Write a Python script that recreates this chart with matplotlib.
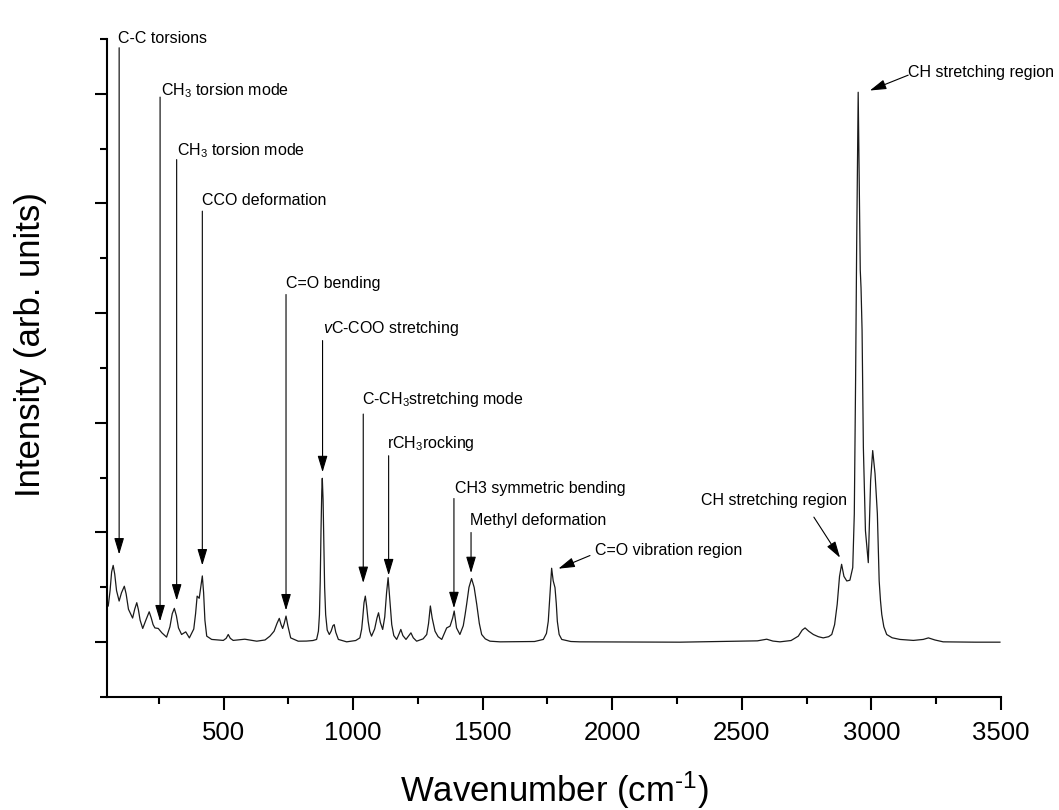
import matplotlib
matplotlib.use("Agg")
import matplotlib.pyplot as plt
from matplotlib.ticker import MultipleLocator, NullFormatter

plt.rcParams["font.family"] = ["Liberation Sans", "DejaVu Sans"]
plt.rcParams["mathtext.fontset"] = "custom"
plt.rcParams["mathtext.rm"] = "Liberation Sans"
plt.rcParams["mathtext.it"] = "Liberation Sans:italic"
plt.rcParams["mathtext.bf"] = "Liberation Sans:bold"

# Raman spectrum (wavenumber in cm^-1, intensity in arbitrary units)
wavenumber = [
    55, 62, 68, 74, 80, 87, 97, 106, 117, 124, 133, 149, 157, 165, 171, 178,
    188, 200, 213, 221, 228, 235, 248, 262, 280, 293, 302, 310, 318, 326, 338,
    354, 368, 385, 392, 398, 406, 413, 418, 423, 428, 435, 454, 499, 510, 518,
    526, 537, 582, 628, 660, 679, 695, 706, 715, 722, 728, 734, 741, 748, 759,
    788, 820, 845, 859, 866, 870, 873, 876, 879, 881, 884, 887, 890, 894, 900,
    908, 915, 922, 927, 933, 943, 975, 1010, 1026, 1033, 1037, 1042, 1047,
    1052, 1058, 1064, 1071, 1083, 1092, 1098, 1105, 1114, 1122, 1129, 1135,
    1141, 1149, 1157, 1168, 1178, 1184, 1192, 1204, 1215, 1223, 1232, 1245,
    1270, 1284, 1291, 1298, 1305, 1316, 1328, 1342, 1352, 1361, 1374, 1384,
    1390, 1395, 1399, 1412, 1425, 1432, 1438, 1447, 1457, 1467, 1477, 1487,
    1496, 1510, 1528, 1567, 1700, 1734, 1746, 1753, 1760, 1766, 1772, 1779,
    1784, 1788, 1795, 1805, 1840, 1875, 2261, 2560, 2596, 2620, 2647, 2690,
    2718, 2733, 2744, 2758, 2776, 2795, 2814, 2835, 2847, 2858, 2868, 2877,
    2885, 2894, 2905, 2917, 2928, 2934, 2939, 2943, 2947, 2949, 2953, 2957,
    2960, 2964, 2969, 2977, 2988, 2997, 3005, 3014, 3023, 3030, 3035, 3040,
    3048, 3059, 3080, 3110, 3162, 3200, 3220, 3245, 3277, 3400, 3496,
]
intensity = [
    0.33, 0.47, 0.64, 0.70, 0.62, 0.47, 0.375, 0.45, 0.51, 0.44, 0.30, 0.22,
    0.30, 0.36, 0.30, 0.20, 0.125, 0.20, 0.277, 0.22, 0.16, 0.13, 0.125,
    0.085, 0.046, 0.14, 0.26, 0.308, 0.24, 0.13, 0.07, 0.094, 0.039, 0.12,
    0.26, 0.42, 0.40, 0.52, 0.604, 0.45, 0.20, 0.055, 0.025, 0.016, 0.035,
    0.07, 0.035, 0.016, 0.027, 0.009, 0.02, 0.055, 0.10, 0.17, 0.217, 0.16,
    0.125, 0.17, 0.238, 0.15, 0.039, 0.009, 0.01, 0.015, 0.025, 0.10, 0.25,
    0.55, 1.016, 1.38, 1.494, 1.30, 0.92, 0.50, 0.25, 0.11, 0.07, 0.10, 0.15,
    0.16, 0.09, 0.025, 0.003, 0.015, 0.039, 0.12, 0.22, 0.36, 0.42, 0.33,
    0.19, 0.10, 0.055, 0.12, 0.22, 0.268, 0.18, 0.116, 0.23, 0.45, 0.588,
    0.40, 0.16, 0.06, 0.025, 0.08, 0.116, 0.06, 0.025, 0.06, 0.085, 0.04,
    0.009, 0.03, 0.07, 0.17, 0.33, 0.22, 0.10, 0.05, 0.025, 0.08, 0.13,
    0.146, 0.22, 0.284, 0.20, 0.13, 0.07, 0.15, 0.25, 0.345, 0.50, 0.58,
    0.50, 0.345, 0.17, 0.07, 0.03, 0.009, 0.003, 0.006, 0.025, 0.08, 0.19,
    0.45, 0.674, 0.56, 0.497, 0.35, 0.19, 0.07, 0.025, 0.006, 0.003, 0.0,
    0.012, 0.027, 0.01, 0.003, 0.015, 0.055, 0.11, 0.13, 0.10, 0.07, 0.05,
    0.039, 0.05, 0.07, 0.16, 0.345, 0.60, 0.71, 0.60, 0.558, 0.565, 0.68,
    1.168, 2.388, 3.577, 4.584, 5.014, 4.218, 3.394, 3.23, 2.845, 1.775,
    1.016, 0.725, 1.473, 1.747, 1.537, 1.171, 0.558, 0.38, 0.253, 0.14, 0.07,
    0.04, 0.025, 0.016, 0.025, 0.039, 0.02, 0.003, 0.0, 0.0,
]

x_ticks = [500, 1000, 1500, 2000, 2500, 3000, 3500]

# Band assignments: label, text anchor (left/right edge, centre), arrow start, arrow tip
band_labels = [
    "C-C torsions",
    "CH$_3$ torsion mode",
    "CH$_3$ torsion mode",
    "CCO deformation",
    "C=O bending",
    "$\\mathit{v}$C-COO stretching",
    "C-CH$_3$stretching mode",
    "rCH$_3$rocking",
    "CH3 symmetric bending",
    "Methyl deformation",
    "C=O vibration region",
    "CH stretching region",
    "CH stretching region",
]
label_xy = [
    (91, 5.50), (258, 5.03), (322, 4.48), (418, 4.03), (741, 3.27),
    (882, 2.86), (1035, 2.21), (1129, 1.81), (1393, 1.40), (1451, 1.11),
    (1933, 0.84), (2905, 1.29), (3142, 5.19),
]
label_ha = ["left"] * 11 + ["right", "left"]
arrow_start = [
    (97, 5.42), (255, 4.97), (319, 4.40), (418, 3.93), (741, 3.17),
    (882, 2.75), (1039, 2.08), (1137, 1.70), (1389, 1.31), (1455, 1.00),
    (1914, 0.79), (2778, 1.14), (3142, 5.17),
]
arrow_tip = [
    (97, 0.80), (255, 0.19), (319, 0.38), (418, 0.70), (741, 0.29),
    (882, 1.55), (1039, 0.54), (1137, 0.61), (1389, 0.31), (1455, 0.63),
    (1792, 0.67), (2879, 0.77), (2994, 5.03),
]

fig = plt.figure(figsize=(10.59, 8.10), dpi=100)
ax = fig.add_axes([0.1010, 0.1395, 0.8442, 0.8124])

ax.plot(wavenumber, intensity, color="#1a1a1a", lw=0.9,
        solid_joinstyle="round")

for text, (tx, ty), ha, start, tip in zip(band_labels, label_xy, label_ha,
                                          arrow_start, arrow_tip):
    ax.annotate("", xy=tip, xytext=start, annotation_clip=False,
                arrowprops=dict(arrowstyle="-|>,head_length=1.0,head_width=0.3",
                                mutation_scale=10, color="black", lw=0.8,
                                shrinkA=0, shrinkB=0))
    ax.text(tx, ty, text, ha=ha, va="center", fontsize=11.5, color="black",
            clip_on=False)

ax.set_xlim(50, 3500)
ax.set_ylim(-0.5, 5.5)
ax.set_xticks(x_ticks)
ax.xaxis.set_minor_locator(MultipleLocator(250))
ax.yaxis.set_major_locator(MultipleLocator(1))
ax.yaxis.set_minor_locator(MultipleLocator(0.5))
ax.yaxis.set_major_formatter(NullFormatter())

for side in ("top", "right"):
    ax.spines[side].set_visible(False)
for side in ("left", "bottom"):
    ax.spines[side].set_linewidth(1.5)

ax.tick_params(which="major", direction="out", length=9, width=1.5,
               labelsize=18.5, pad=8)
ax.tick_params(which="minor", direction="out", length=5, width=1.5)

ax.set_xlabel("Wavenumber (cm$^{\\text{-}1}$)", fontsize=25, va="baseline")
ax.xaxis.set_label_coords(0.5, -0.159)
ax.set_ylabel("Intensity (arb. units)", fontsize=25, va="center", ha="center")
ax.yaxis.set_label_coords(-0.085, 0.535)

fig.savefig("out.png", dpi=100, facecolor="white")
